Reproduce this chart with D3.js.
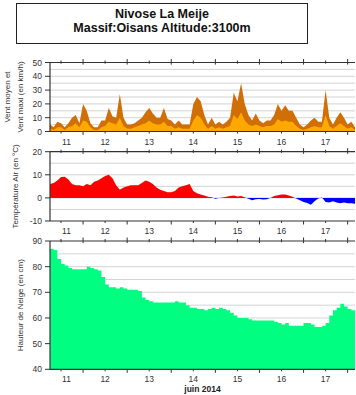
<!DOCTYPE html>
<html><head><meta charset="utf-8">
<script src="https://cdn.jsdelivr.net/npm/d3@7"></script>
<style>body{margin:0;background:#fff}svg{display:block}text{font-family:"Liberation Sans",Arial,sans-serif}</style>
</head><body>
<script>
// ---- data ----
const titleLines = ["Nivose La Meije", "Massif:Oisans Altitude:3100m"];
const startTime = "2014-06-11T06:00:00Z";
const endTime = "2014-06-18T04:00:00Z";
const stepHours = 2;
const windMax = [5,3,7,6,3,6,10,12,6,20,15,6,3,3,8,8,17,11,10,27,10,5,5,6,8,10,14,17,13,10,10,17,9,8,5,8,5,5,5,20,25,22,12,5,10,5,7,5,7,10,28,22,35,20,12,8,13,8,6,8,8,12,20,15,19,15,15,10,5,3,5,8,10,7,7,30,10,5,10,14,10,5,7,3];
const windMean = [2,1,3,3,1,3,4,6,3,8,7,3,1,1,3,4,7,6,5,10,4,2,2,3,4,5,6,8,6,5,5,7,4,4,2,3,2,2,2,8,12,10,5,2,4,2,3,2,3,4,12,9,14,8,5,4,5,4,3,4,4,5,9,7,8,7,7,4,2,1,2,3,4,3,3,12,4,2,4,6,4,2,3,1];
const temperature = [6,6.5,7.5,9,9.2,8,6,5.5,5.5,5,6,5.5,7,7.5,8.5,9.5,10,8.5,5.5,3.5,4.5,5,5.5,5.5,5.5,6.5,7.5,7,6,4.5,3.5,3,2.5,2.5,3,4.5,5,5.5,6,3,2,1.5,1,0.5,0.3,-0.4,0,0.2,0.5,0.8,1,0.6,0.8,0.3,-0.4,-1,-0.6,-0.5,-0.7,-0.6,0,0.8,1.2,1.5,1.5,1,0.5,-0.3,-1,-1.8,-2.2,-3,-1.5,-0.3,0.2,-1.8,-2,-1.5,-2,-2.3,-2,-2.3,-2.3,-2.5];
const snowDepth = [87,86.5,83,81,80.5,79.5,79,79,79,79,80,79.5,79,78.5,76,73,72,72,71.5,72,71.5,71,71,71,70.5,68,67,66.5,66,66,66,66,66,66,66.5,66,66,65,64,64,63.5,63.5,63,63.5,64,63.5,64,63.5,63,62,61,60,60,60,59.5,59,59,59,59,59,59,58.5,58,57.5,58,57,57,57,57,58,58,57.5,56.5,56.5,57,58,61,63,64,65.5,64.5,63.5,63,64];
const windTicks = [0,10,20,30,40,50];
const tempTicks = [-10,0,10,20];
const snowTicks = [40,50,60,70,80,90];
const windTitle = ["Vent moyen et", "Vent maxi (en km/h)"];
const tempTitle = ["Température Air (en °C)"];
const snowTitle = ["Hauteur de Neige (en cm)"];
const monthLabel = "juin 2014";

// ---- setup ----
const W = 356, H = 395;
const svg = d3.select("body").append("svg").attr("width", W).attr("height", H);
const t0 = new Date(startTime), t1 = new Date(endTime);
const timeAt = i => new Date(t0.getTime() + i * stepHours * 3600e3);
const x = d3.scaleUtc().domain([t0, t1]).range([50, 355]);
const x0 = x.range()[0], x1 = x.range()[1];

// title box
svg.append("rect").attr("x", 16.5).attr("y", 3.5).attr("width", 291).attr("height", 40)
  .attr("fill", "#fff").attr("stroke", "#222").attr("stroke-width", 1);
titleLines.forEach((t, i) => svg.append("text").attr("x", 162).attr("y", 18 + i * 13.5)
  .attr("text-anchor", "middle").attr("font-size", 12.5).attr("font-weight", "bold").attr("fill", "#111").text(t));

const panels = [
  {top: 62.5, bottom: 131.5, domain: [0, 50], ticks: windTicks, title: windTitle, titleX: [7, 20]},
  {top: 151.7, bottom: 221, domain: [-10, 20], ticks: tempTicks, title: tempTitle, titleX: [15]},
  {top: 241, bottom: 369.3, domain: [40, 90], ticks: snowTicks, title: snowTitle, titleX: [20]}
];

const dayStarts = d3.utcDay.range(d3.utcDay.floor(t0), t1);
const halfDays = d3.utcHour.every(12).range(t0, t1);

panels.forEach((p, pi) => {
  const y = d3.scaleLinear().domain(p.domain).range([p.bottom, p.top]);
  p.y = y;
  const g = svg.append("g");
  // grid every 5
  const grid = d3.range(p.domain[0] + 5, p.domain[1], 5);
  g.selectAll("line.grid").data(grid).join("line")
    .attr("x1", x0).attr("x2", x1).attr("y1", d => y(d)).attr("y2", d => y(d))
    .attr("stroke", "#c8c8c8").attr("stroke-width", 0.8);
  p.g = g;
});

// wind
{
  const p = panels[0], y = p.y;
  const area = vals => d3.area().x((d, i) => x(timeAt(i))).y0(y(0)).y1(d => y(d))(vals);
  p.g.append("path").attr("d", area(windMax)).attr("fill", "#d06f06");
  p.g.append("path").attr("d", area(windMean)).attr("fill", "#ffa800");
}
// temperature
{
  const p = panels[1], y = p.y;
  const defs = svg.append("defs");
  defs.append("clipPath").attr("id", "above").append("rect")
    .attr("x", x0).attr("width", x1 - x0).attr("y", p.top).attr("height", y(0) - p.top);
  defs.append("clipPath").attr("id", "below").append("rect")
    .attr("x", x0).attr("width", x1 - x0).attr("y", y(0)).attr("height", p.bottom - y(0));
  const a = d3.area().x((d, i) => x(timeAt(i))).y0(y(0)).y1(d => y(d))(temperature);
  p.g.append("path").attr("d", a).attr("fill", "#ff0000").attr("clip-path", "url(#above)");
  p.g.append("path").attr("d", a).attr("fill", "#0000ff").attr("clip-path", "url(#below)");
}
// snow
{
  const p = panels[2], y = p.y;
  const a = d3.area().curve(d3.curveStepAfter).x((d, i) => x(timeAt(i))).y0(p.bottom).y1(d => y(d))(snowDepth);
  p.g.append("path").attr("d", a).attr("fill", "#00ff80");
}

// axes and labels
panels.forEach((p, pi) => {
  const y = p.y, g = svg.append("g");
  const stroke = "#333";
  // left axis
  g.append("line").attr("x1", x0).attr("x2", x0).attr("y1", p.top).attr("y2", p.bottom).attr("stroke", stroke).attr("stroke-width", 1.2);
  // top and bottom borders
  [p.top, p.bottom].forEach(yy => g.append("line").attr("x1", x0).attr("x2", x1).attr("y1", yy).attr("y2", yy).attr("stroke", stroke).attr("stroke-width", 1.2));
  // y ticks
  g.selectAll("line.yt").data(p.ticks).join("line")
    .attr("x1", x0 - 5).attr("x2", x0).attr("y1", d => y(d)).attr("y2", d => y(d)).attr("stroke", stroke);
  g.selectAll("text.yl").data(p.ticks).join("text")
    .attr("x", x0 - 8).attr("y", d => y(d) + 3).attr("text-anchor", "end")
    .attr("font-size", 8.5).attr("fill", "#333").text(d => d);
  // x ticks top & bottom
  halfDays.forEach(t => {
    const major = t.getUTCHours() === 0;
    const len = major ? 3.5 : 2;
    const xx = x(t);
    g.append("line").attr("x1", xx).attr("x2", xx).attr("y1", p.bottom).attr("y2", p.bottom + len).attr("stroke", stroke);
    g.append("line").attr("x1", xx).attr("x2", xx).attr("y1", p.top - len).attr("y2", p.top + len * 0.6).attr("stroke", stroke);
  });
  // day labels centered in visible part of each day
  dayStarts.forEach(d => {
    const a = Math.max(x(d), x0), b = Math.min(x(d3.utcDay.offset(d, 1)), x1);
    if (b - a < 30) return;
    g.append("text").attr("x", (a + b) / 2).attr("y", p.bottom + 13).attr("text-anchor", "middle")
      .attr("font-size", 8.5).attr("fill", "#333").text(d3.utcFormat("%-d")(d));
  });
  // axis title
  const cy = (p.top + p.bottom) / 2;
  p.title.forEach((t, i) => g.append("text")
    .attr("transform", `translate(${p.titleX[i] + 3},${cy}) rotate(-90)`)
    .attr("text-anchor", "middle").attr("font-size", 8).attr("fill", "#333").text(t));
});

svg.append("text").attr("x", (x0 + x1) / 2).attr("y", 392).attr("text-anchor", "middle")
  .attr("font-size", 8.5).attr("font-weight", "bold").attr("fill", "#222").text(monthLabel);
</script>
</body></html>
